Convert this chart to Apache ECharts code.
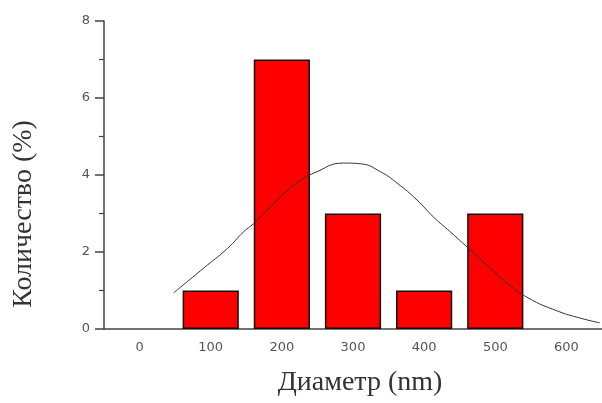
<!DOCTYPE html>
<html>
<head>
<meta charset="utf-8">
<script src="https://cdn.jsdelivr.net/npm/echarts@6/dist/echarts.min.js"></script>
<style>
  html, body { margin: 0; padding: 0; background: #fff; }
  #chart { width: 602px; height: 403px; }
</style>
</head>
<body>
<div id="chart"></div>
<script>
/* data */
var diameters = ['0', '100', '200', '300', '400', '500', '600'];
var counts = [null, 1, 7, 3, 1, 3, null];

// fitted curve, sampled by eye: [diameter, count]
var curveX = [48, 90, 124, 146, 163, 188, 202, 226, 245, 287, 311, 339, 362, 390, 413, 437, 468, 493, 517, 546, 587, 620, 647];
var curveY = [0.94, 1.58, 2.10, 2.52, 2.78, 3.25, 3.50, 3.86, 4.05, 4.31, 4.29, 4.08, 3.79, 3.35, 2.91, 2.52, 2.00, 1.58, 1.19, 0.81, 0.47, 0.28, 0.16];

var curve = curveX.map(function (x, i) { return [x, curveY[i]]; });

var chart = echarts.init(document.getElementById('chart'));

chart.setOption({
	animation: false,
	grid: {
		left: 104,
		right: -2,
		top: 21,
		bottom: 74
	},
	xAxis: [{
		type: 'category',
		data: diameters,
		boundaryGap: true,
		axisLine: { lineStyle: { color: '#444', width: 1.5 } },
		axisTick: {
			length: 5,
			lineStyle: { color: '#444', width: 1.5 }
		},
		axisLabel: {
			color: '#555',
			fontSize: 13,
			fontFamily: 'DejaVu Sans',
			margin: 12
		}
	}, {
		type: 'value',
		min: -50,
		max: 650,
		show: false
	}],
	yAxis: {
		type: 'value',
		min: 0,
		max: 8,
		interval: 2,
		splitLine: { show: false },
		axisLine: { show: true, onZero: false, lineStyle: { color: '#444', width: 1.5 } },
		axisTick: { show: true, length: 9, lineStyle: { color: '#444', width: 1.5 } },
		minorTick: { show: true, splitNumber: 2, length: 5, lineStyle: { color: '#444', width: 1.2 } },
		axisLabel: {
			color: '#555',
			fontSize: 13,
			fontFamily: 'DejaVu Sans',
			margin: 14
		}
	},
	series: [{
		type: 'bar',
		data: counts,
		barWidth: '79%',
		itemStyle: {
			color: '#ff0000',
			borderColor: '#111',
			borderWidth: 1.5
		}
	}, {
		type: 'line',
		xAxisIndex: 1,
		data: curve,
		smooth: true,
		showSymbol: false,
		lineStyle: { color: '#333', width: 1 }
	}],
	graphic: [{
		type: 'text',
		x: 24,
		y: 214,
		rotation: Math.PI / 2,
		style: {
			text: 'Количество (%)',
			font: '28px "Liberation Serif"',
			fill: '#333',
			align: 'center',
			verticalAlign: 'middle'
		}
	}, {
		type: 'text',
		x: 360,
		y: 383,
		style: {
			text: 'Диаметр (nm)',
			font: '28px "Liberation Serif"',
			fill: '#333',
			align: 'center',
			verticalAlign: 'middle'
		}
	}]
});
</script>
</body>
</html>
